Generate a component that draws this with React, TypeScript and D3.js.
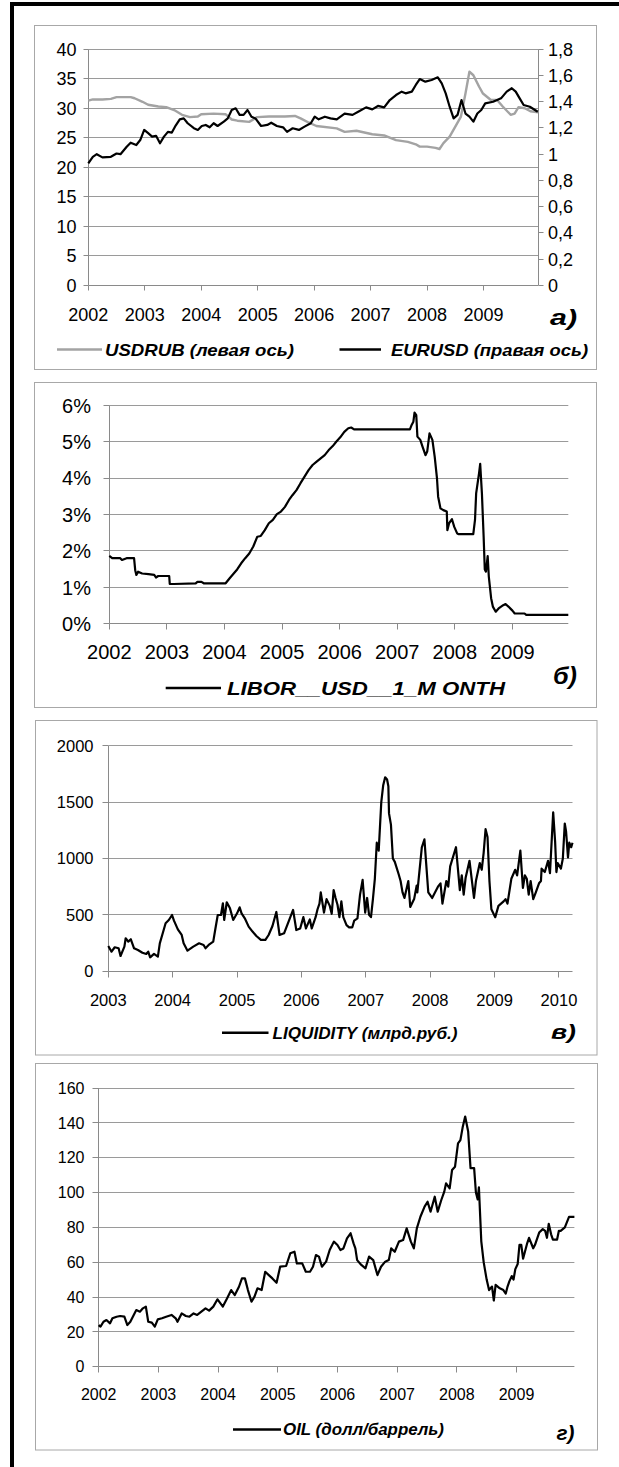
import React from 'react';
import * as d3 from 'd3';

type Pt = [number, number];

// ---------- Panel а) ----------
const YEARS_A = [2002, 2003, 2004, 2005, 2006, 2007, 2008, 2009];
const TICKS_A_LEFT = [0, 5, 10, 15, 20, 25, 30, 35, 40];
const TICKS_A_RIGHT = [0, 0.2, 0.4, 0.6, 0.8, 1, 1.2, 1.4, 1.6, 1.8];
const USDRUB: Pt[] = [
  [2002.0, 31.3], [2002.08, 31.5], [2002.25, 31.5], [2002.4, 31.6], [2002.5, 31.9], [2002.75, 31.9],
  [2002.82, 31.7], [2002.96, 31.1], [2003.06, 30.6], [2003.24, 30.3], [2003.38, 30.2], [2003.52, 29.7],
  [2003.66, 28.9], [2003.8, 28.5], [2003.94, 28.6], [2004.0, 29.0], [2004.22, 29.1], [2004.43, 29.0],
  [2004.54, 28.1], [2004.64, 27.9], [2004.85, 27.7], [2004.99, 28.5], [2005.2, 28.6], [2005.48, 28.6],
  [2005.66, 28.7], [2005.76, 28.3], [2005.9, 27.6], [2006.04, 27.0], [2006.4, 26.6], [2006.54, 26.0],
  [2006.75, 26.2], [2007.03, 25.6], [2007.24, 25.4], [2007.45, 24.6], [2007.66, 24.3], [2007.8, 23.9],
  [2007.87, 23.5], [2008.0, 23.5], [2008.15, 23.3], [2008.22, 23.1], [2008.29, 24.1], [2008.4, 25.2],
  [2008.5, 26.9], [2008.6, 28.6], [2008.68, 32.5], [2008.75, 36.2], [2008.82, 35.6], [2008.92, 33.7],
  [2008.99, 32.5], [2009.13, 31.4], [2009.24, 31.4], [2009.34, 30.3], [2009.48, 28.9], [2009.55, 29.1],
  [2009.62, 30.2], [2009.73, 30.0], [2009.83, 29.5], [2009.97, 29.3],
];
const EURUSD: Pt[] = [
  [2002.0, 0.93], [2002.08, 0.98], [2002.15, 1.0], [2002.25, 0.976], [2002.4, 0.98], [2002.5, 1.005],
  [2002.57, 1.0], [2002.68, 1.057], [2002.75, 1.088], [2002.85, 1.07], [2002.92, 1.108], [2002.99, 1.185],
  [2003.06, 1.16], [2003.13, 1.134], [2003.2, 1.14], [2003.27, 1.083], [2003.34, 1.134], [2003.41, 1.17],
  [2003.48, 1.165], [2003.55, 1.22], [2003.62, 1.266], [2003.69, 1.273], [2003.76, 1.236], [2003.87, 1.198],
  [2003.94, 1.185], [2004.01, 1.215], [2004.08, 1.223], [2004.15, 1.205], [2004.22, 1.236], [2004.29, 1.215],
  [2004.4, 1.248], [2004.47, 1.273], [2004.54, 1.337], [2004.61, 1.35], [2004.68, 1.3], [2004.75, 1.3],
  [2004.82, 1.337], [2004.89, 1.286], [2004.96, 1.273], [2005.06, 1.215], [2005.17, 1.223], [2005.24, 1.24],
  [2005.34, 1.215], [2005.45, 1.205], [2005.52, 1.17], [2005.62, 1.198], [2005.73, 1.185], [2005.83, 1.21],
  [2005.94, 1.236], [2006.01, 1.286], [2006.08, 1.266], [2006.19, 1.286], [2006.29, 1.273], [2006.4, 1.266],
  [2006.54, 1.31], [2006.68, 1.3], [2006.78, 1.324], [2006.92, 1.357], [2007.03, 1.342], [2007.13, 1.368],
  [2007.24, 1.357], [2007.34, 1.413], [2007.45, 1.451], [2007.55, 1.477], [2007.62, 1.464], [2007.73, 1.477],
  [2007.8, 1.528], [2007.87, 1.573], [2007.97, 1.553], [2008.08, 1.566], [2008.19, 1.586], [2008.26, 1.54],
  [2008.33, 1.464], [2008.4, 1.362], [2008.47, 1.273], [2008.54, 1.3], [2008.61, 1.413], [2008.68, 1.31],
  [2008.75, 1.286], [2008.82, 1.248], [2008.89, 1.31], [2008.96, 1.337], [2009.03, 1.388], [2009.17, 1.4],
  [2009.31, 1.426], [2009.41, 1.477], [2009.5, 1.503], [2009.57, 1.477], [2009.64, 1.426], [2009.71, 1.375],
  [2009.82, 1.362], [2009.96, 1.324],
];

// ---------- Panel б) ----------
const YEARS_B = [2002, 2003, 2004, 2005, 2006, 2007, 2008, 2009];
const TICKS_B = [0, 1, 2, 3, 4, 5, 6];
const LIBOR: Pt[] = [
  [2002.0, 1.86], [2002.05, 1.8], [2002.19, 1.8], [2002.22, 1.75], [2002.3, 1.8], [2002.43, 1.8],
  [2002.45, 1.47], [2002.47, 1.34], [2002.5, 1.43], [2002.57, 1.38], [2002.68, 1.36], [2002.78, 1.34],
  [2002.81, 1.27], [2002.85, 1.31], [2003.04, 1.31], [2003.05, 1.09], [2003.12, 1.09], [2003.5, 1.11],
  [2003.53, 1.15], [2003.6, 1.15], [2003.64, 1.11], [2004.02, 1.11], [2004.09, 1.25], [2004.16, 1.38],
  [2004.22, 1.49], [2004.29, 1.66], [2004.36, 1.8], [2004.43, 1.93], [2004.5, 2.12], [2004.57, 2.39],
  [2004.63, 2.41], [2004.7, 2.57], [2004.77, 2.76], [2004.84, 2.85], [2004.91, 3.01], [2004.98, 3.08],
  [2005.05, 3.21], [2005.12, 3.4], [2005.18, 3.53], [2005.25, 3.67], [2005.32, 3.86], [2005.39, 4.04],
  [2005.46, 4.22], [2005.53, 4.36], [2005.6, 4.45], [2005.67, 4.54], [2005.74, 4.63], [2005.81, 4.77],
  [2005.88, 4.88], [2005.94, 5.0], [2006.01, 5.12], [2006.08, 5.27], [2006.15, 5.37], [2006.2, 5.39],
  [2006.25, 5.34], [2007.22, 5.34], [2007.25, 5.46], [2007.28, 5.55], [2007.3, 5.8], [2007.33, 5.73],
  [2007.35, 5.14], [2007.4, 5.05], [2007.44, 4.86], [2007.49, 4.63], [2007.52, 4.73], [2007.56, 5.23],
  [2007.61, 5.05], [2007.65, 4.59], [2007.69, 3.99], [2007.71, 3.49], [2007.75, 3.17], [2007.8, 3.12],
  [2007.86, 3.08], [2007.87, 2.57], [2007.9, 2.76], [2007.95, 2.87], [2007.99, 2.66], [2008.04, 2.48],
  [2008.07, 2.46], [2008.32, 2.46], [2008.35, 2.85], [2008.37, 3.58], [2008.42, 4.13], [2008.44, 4.39],
  [2008.47, 3.58], [2008.5, 2.39], [2008.52, 1.49], [2008.54, 1.43], [2008.57, 1.86], [2008.59, 1.29],
  [2008.63, 0.7], [2008.66, 0.47], [2008.71, 0.33], [2008.76, 0.42], [2008.84, 0.51], [2008.88, 0.54],
  [2008.93, 0.47], [2009.0, 0.36], [2009.04, 0.28], [2009.21, 0.28], [2009.24, 0.24], [2009.97, 0.24],
];

// ---------- Panel в) ----------
const YEARS_C = [2003, 2004, 2005, 2006, 2007, 2008, 2009, 2010];
const TICKS_C = [0, 500, 1000, 1500, 2000];
const LIQUIDITY: Pt[] = [
  [2003.0, 225], [2003.05, 174], [2003.1, 213], [2003.16, 204], [2003.19, 136], [2003.25, 219],
  [2003.27, 293], [2003.31, 263], [2003.35, 284], [2003.4, 204], [2003.46, 189], [2003.53, 165],
  [2003.59, 154], [2003.62, 174], [2003.65, 124], [2003.71, 154], [2003.77, 130], [2003.8, 248],
  [2003.86, 366], [2003.89, 426], [2003.94, 455], [2003.99, 499], [2004.02, 449], [2004.08, 372],
  [2004.14, 322], [2004.17, 248], [2004.23, 183], [2004.32, 219], [2004.41, 248], [2004.48, 233],
  [2004.51, 204], [2004.57, 239], [2004.63, 263], [2004.66, 366], [2004.7, 499], [2004.75, 499],
  [2004.78, 603], [2004.8, 455], [2004.84, 612], [2004.89, 558], [2004.94, 455], [2005.0, 514],
  [2005.04, 567], [2005.07, 514], [2005.12, 470], [2005.18, 396], [2005.24, 352], [2005.3, 313],
  [2005.37, 278], [2005.44, 278], [2005.49, 322], [2005.55, 402], [2005.61, 526], [2005.66, 322],
  [2005.73, 337], [2005.83, 485], [2005.87, 544], [2005.92, 366], [2005.98, 380], [2006.03, 480],
  [2006.07, 380], [2006.13, 460], [2006.16, 380], [2006.22, 480], [2006.25, 550], [2006.28, 600],
  [2006.3, 700], [2006.35, 520], [2006.39, 640], [2006.44, 580], [2006.47, 510], [2006.5, 720],
  [2006.53, 650], [2006.56, 590], [2006.59, 480], [2006.62, 620], [2006.65, 480], [2006.7, 410],
  [2006.74, 390], [2006.79, 390], [2006.82, 450], [2006.87, 470], [2006.91, 680], [2006.95, 810],
  [2006.99, 520], [2007.02, 650], [2007.05, 500], [2007.08, 480], [2007.11, 640], [2007.14, 820],
  [2007.17, 1140], [2007.2, 1070], [2007.24, 1500], [2007.27, 1650], [2007.3, 1720], [2007.33, 1700],
  [2007.35, 1640], [2007.36, 1400], [2007.39, 1300], [2007.42, 1000], [2007.45, 970], [2007.51, 860],
  [2007.54, 800], [2007.57, 700], [2007.6, 650], [2007.66, 800], [2007.69, 570], [2007.75, 640],
  [2007.79, 760], [2007.8, 700], [2007.87, 1100], [2007.91, 1170], [2007.97, 700], [2008.03, 650],
  [2008.12, 750], [2008.16, 780], [2008.19, 600], [2008.25, 800], [2008.28, 750], [2008.31, 930],
  [2008.4, 1100], [2008.46, 720], [2008.49, 850], [2008.52, 680], [2008.55, 830], [2008.61, 980],
  [2008.68, 650], [2008.71, 800], [2008.77, 960], [2008.8, 900], [2008.83, 1050], [2008.86, 1260],
  [2008.89, 1190], [2008.92, 800], [2008.95, 550], [2009.01, 480], [2009.06, 580], [2009.14, 620],
  [2009.17, 640], [2009.2, 600], [2009.26, 820], [2009.32, 900], [2009.35, 850], [2009.4, 1070],
  [2009.44, 740], [2009.47, 850], [2009.5, 820], [2009.53, 680], [2009.56, 800], [2009.6, 640],
  [2009.64, 700], [2009.69, 780], [2009.72, 800], [2009.73, 910], [2009.78, 880], [2009.83, 980],
  [2009.86, 870], [2009.91, 1410], [2009.94, 1150], [2009.96, 880], [2009.98, 960], [2010.03, 910],
  [2010.06, 1000], [2010.09, 1310], [2010.11, 1240], [2010.14, 1010], [2010.16, 1140], [2010.19, 1100],
  [2010.21, 1140],
];

// ---------- Panel г) ----------
const YEARS_D = [2002, 2003, 2004, 2005, 2006, 2007, 2008, 2009];
const TICKS_D = [0, 20, 40, 60, 80, 100, 120, 140, 160];
const OIL: Pt[] = [
  [2002.0, 23.9], [2002.03, 23], [2002.08, 25.8], [2002.13, 26.8], [2002.19, 24.9], [2002.23, 27.8],
  [2002.3, 28.7], [2002.36, 29.1], [2002.43, 28.7], [2002.48, 23.9], [2002.53, 25.8], [2002.6, 30.6],
  [2002.63, 32.5], [2002.69, 31.6], [2002.74, 33.5], [2002.79, 34.5], [2002.83, 25.8], [2002.89, 25.3],
  [2002.94, 23], [2002.99, 27.2], [2003.06, 27.8], [2003.13, 28.7], [2003.22, 29.7], [2003.29, 27.8],
  [2003.32, 25.8], [2003.39, 30.6], [2003.46, 29.1], [2003.52, 28.7], [2003.59, 30.6], [2003.65, 29.7],
  [2003.72, 31.6], [2003.79, 33.5], [2003.85, 32.2], [2003.92, 34.5], [2003.99, 38.7], [2004.04, 36.4],
  [2004.08, 34.5], [2004.15, 39.2], [2004.22, 44.0], [2004.28, 41.1], [2004.35, 45.9], [2004.4, 50.7],
  [2004.45, 50.7], [2004.5, 44.0], [2004.56, 37.3], [2004.61, 40.2], [2004.66, 45.0], [2004.73, 44.0],
  [2004.79, 54.5], [2004.85, 52.6], [2004.91, 50.7], [2004.98, 48.2], [2005.04, 57.4], [2005.14, 57.8],
  [2005.21, 65.1], [2005.28, 66.0], [2005.32, 59.3], [2005.41, 59.3], [2005.47, 54.5], [2005.54, 54.5],
  [2005.59, 57.4], [2005.64, 64.1], [2005.69, 63.2], [2005.74, 57.4], [2005.81, 60.3], [2005.87, 67.0],
  [2005.94, 71.8], [2006.0, 69.9], [2006.05, 67.0], [2006.1, 67.9], [2006.16, 73.7], [2006.22, 76.6],
  [2006.27, 70.8], [2006.3, 67.9], [2006.33, 61.2], [2006.4, 58.4], [2006.47, 56.5], [2006.53, 63.2],
  [2006.6, 61.2], [2006.67, 52.6], [2006.73, 57.4], [2006.8, 60.3], [2006.86, 61.2], [2006.9, 67.9],
  [2006.96, 66.0], [2007.03, 71.8], [2007.1, 72.7], [2007.16, 79.4], [2007.23, 71.8], [2007.28, 67.9],
  [2007.33, 79.4], [2007.39, 86.1], [2007.46, 91.9], [2007.51, 94.7], [2007.56, 89.0], [2007.63, 97.6],
  [2007.68, 89.0], [2007.74, 95.7], [2007.79, 100.5], [2007.82, 105.3], [2007.88, 102.4], [2007.92, 112.9],
  [2007.97, 114.8], [2008.02, 128.2], [2008.06, 130.1], [2008.1, 137.8], [2008.14, 143.6], [2008.19, 135],
  [2008.23, 114], [2008.29, 114], [2008.32, 100], [2008.35, 96], [2008.37, 103], [2008.41, 72],
  [2008.45, 60], [2008.5, 50], [2008.54, 44], [2008.59, 46], [2008.62, 38], [2008.65, 47],
  [2008.72, 45], [2008.78, 44], [2008.82, 42], [2008.85, 46], [2008.88, 49], [2008.92, 52],
  [2008.95, 50], [2008.98, 56], [2009.02, 59], [2009.05, 70], [2009.08, 70], [2009.11, 62],
  [2009.18, 71], [2009.21, 74], [2009.28, 68], [2009.31, 70], [2009.38, 77], [2009.44, 79],
  [2009.48, 78], [2009.51, 74], [2009.54, 82], [2009.58, 76], [2009.61, 73], [2009.68, 73],
  [2009.71, 78], [2009.74, 78], [2009.81, 80], [2009.88, 86], [2009.97, 86],
];

const FONT = '"Liberation Sans", Arial, Helvetica, sans-serif';
const GRID = '#9a9a9a';
const AXIS = '#8a8a8a';
const FRAME = '#a8a8a8';

const c = (v: number) => Math.round(v - 0.5) + 0.5;

type AxesProps = {
  xs: d3.ScaleLinear<number, number>;
  ys: d3.ScaleLinear<number, number>;
  xTicks: number[];
  yTicks: number[];
  yFmt: (v: number) => string;
  yLabelEnd: number;
  xLabelBaseline: number;
  fontSize: number;
  tick: number;
};

function Axes({ xs, ys, xTicks, yTicks, yFmt, yLabelEnd, xLabelBaseline, fontSize, tick }: AxesProps) {
  const [x0, x1] = xs.range();
  const [yb, yt] = ys.range();
  return (
    <g>
      {yTicks.filter((t) => t !== 0).map((t) => (
        <line key={'g' + t} x1={c(x0)} x2={x1} y1={c(ys(t))} y2={c(ys(t))} stroke={GRID} strokeWidth={1} />
      ))}
      <line x1={c(x0)} x2={c(x0)} y1={yt} y2={c(yb)} stroke={AXIS} />
      <line x1={c(x0)} x2={x1} y1={c(yb)} y2={c(yb)} stroke={AXIS} />
      {yTicks.map((t) => (
        <line key={'yt' + t} x1={c(x0) - tick} x2={c(x0)} y1={c(ys(t))} y2={c(ys(t))} stroke={AXIS} />
      ))}
      {xTicks.map((t) => (
        <line key={'xt' + t} x1={c(xs(t))} x2={c(xs(t))} y1={c(yb)} y2={c(yb) + tick} stroke={AXIS} />
      ))}
      {yTicks.map((t) => (
        <text key={'yl' + t} x={yLabelEnd} y={ys(t)} dy="0.36em" textAnchor="end" fontSize={fontSize} fill="#000">
          {yFmt(t)}
        </text>
      ))}
      {xTicks.map((t) => (
        <text key={'xl' + t} x={xs(t)} y={xLabelBaseline} textAnchor="middle" fontSize={fontSize} fill="#000">
          {t}
        </text>
      ))}
    </g>
  );
}

function path(data: Pt[], xs: d3.ScaleLinear<number, number>, ys: d3.ScaleLinear<number, number>) {
  return d3.line<Pt>().x((d) => xs(d[0])).y((d) => ys(d[1]))(data) || '';
}

export default function App() {
  // Panel а
  const xA = d3.scaleLinear().domain([2002, 2009.97]).range([88.3, 538.3]);
  const yAL = d3.scaleLinear().domain([0, 40]).range([285.3, 49.3]);
  const yAR = d3.scaleLinear().domain([0, 1.8]).range([285.3, 49.3]);
  // Panel б
  const xB = d3.scaleLinear().domain([2002, 2009.97]).range([109.3, 568.3]);
  const yB = d3.scaleLinear().domain([0, 6]).range([623.7, 405.3]);
  // Panel в
  const xC = d3.scaleLinear().domain([2003, 2010.21]).range([108.3, 572.5]);
  const yC = d3.scaleLinear().domain([0, 2000]).range([971.3, 745.7]);
  // Panel г
  const xD = d3.scaleLinear().domain([2002, 2009.97]).range([98.7, 574.4]);
  const yD = d3.scaleLinear().domain([0, 160]).range([1366.7, 1088]);

  const rightAxisX = c(xA.range()[1]);
  const fmtComma = (v: number) => String(+v.toFixed(1)).replace('.', ',');

  const legendStyle = { fontWeight: 'bold' as const, fontStyle: 'italic' as const };

  return (
    <div style={{ position: 'absolute', left: 0, top: 0 }}>
      <svg width={619} height={1467} viewBox="0 0 619 1467" style={{ display: 'block', background: '#fff' }} fontFamily={FONT}>
        <rect x={0} y={0} width={619} height={1467} fill="#fff" />
        {/* outer black frame */}
        <rect x={12} y={4} width={700} height={1500} fill="none" stroke="#000" strokeWidth={4} />

        {/* panel frames */}
        <rect x={34.5} y={25.5} width={562} height={344} fill="none" stroke={FRAME} />
        <rect x={34.5} y={382.5} width={562} height={325} fill="none" stroke={FRAME} />
        <rect x={35.5} y={720.5} width={561.5} height={334.5} fill="none" stroke={FRAME} />
        <rect x={35.5} y={1063.5} width={562} height={386.5} fill="none" stroke={FRAME} />

        {/* ---- Panel а ---- */}
        <Axes xs={xA} ys={yAL} xTicks={YEARS_A} yTicks={TICKS_A_LEFT} yFmt={(v) => String(v)} yLabelEnd={76.5}
          xLabelBaseline={321} fontSize={18} tick={5} />
        <line x1={rightAxisX} x2={rightAxisX} y1={yAR(1.8)} y2={c(yAR(0))} stroke={AXIS} />
        {TICKS_A_RIGHT.map((t) => (
          <g key={'ar' + t}>
            <line x1={rightAxisX} x2={rightAxisX + 5} y1={c(yAR(t))} y2={c(yAR(t))} stroke={AXIS} />
            <text x={548} y={yAR(t)} dy="0.36em" fontSize={18} fill="#000">{fmtComma(t)}</text>
          </g>
        ))}
        <path d={path(USDRUB, xA, yAL)} fill="none" stroke="#a3a3a3" strokeWidth={2.4} strokeLinejoin="round" />
        <path d={path(EURUSD, xA, yAR)} fill="none" stroke="#000" strokeWidth={2.2} strokeLinejoin="round" />
        <text x={550} y={325} fontSize={22} {...legendStyle} textLength={27} lengthAdjust="spacingAndGlyphs">а)</text>
        <line x1={57} x2={102} y1={349.5} y2={349.5} stroke="#a3a3a3" strokeWidth={2.5} />
        <text x={105} y={355.5} fontSize={17} {...legendStyle} textLength={189} lengthAdjust="spacingAndGlyphs">USDRUB (левая ось)</text>
        <line x1={339.5} x2={381} y1={349.5} y2={349.5} stroke="#000" strokeWidth={2.5} />
        <text x={391} y={355.5} fontSize={17} {...legendStyle} textLength={197} lengthAdjust="spacingAndGlyphs">EURUSD (правая ось)</text>

        {/* ---- Panel б ---- */}
        <Axes xs={xB} ys={yB} xTicks={YEARS_B} yTicks={TICKS_B} yFmt={(v) => v + '%'} yLabelEnd={91}
          xLabelBaseline={659} fontSize={20} tick={6} />
        <path d={path(LIBOR, xB, yB)} fill="none" stroke="#000" strokeWidth={2.2} strokeLinejoin="round" />
        <text x={553} y={683.5} fontSize={23} {...legendStyle} textLength={24} lengthAdjust="spacingAndGlyphs">б)</text>
        <line x1={165.7} x2={221} y1={688} y2={688} stroke="#000" strokeWidth={2.5} />
        <text x={227} y={695} fontSize={19} {...legendStyle} textLength={278} lengthAdjust="spacingAndGlyphs">LIBOR__USD__1_M ONTH</text>

        {/* ---- Panel в ---- */}
        <Axes xs={xC} ys={yC} xTicks={YEARS_C} yTicks={TICKS_C} yFmt={(v) => String(v)} yLabelEnd={93.5}
          xLabelBaseline={1005.7} fontSize={16.5} tick={6} />
        <path d={path(LIQUIDITY, xC, yC)} fill="none" stroke="#000" strokeWidth={2.2} strokeLinejoin="round" />
        <text x={551} y={1039} fontSize={21} {...legendStyle} textLength={25} lengthAdjust="spacingAndGlyphs">в)</text>
        <line x1={222} x2={268.5} y1={1032.7} y2={1032.7} stroke="#000" strokeWidth={2.5} />
        <text x={272.5} y={1038.5} fontSize={16} {...legendStyle} textLength={185} lengthAdjust="spacingAndGlyphs">LIQUIDITY (млрд.руб.)</text>

        {/* ---- Panel г ---- */}
        <Axes xs={xD} ys={yD} xTicks={YEARS_D} yTicks={TICKS_D} yFmt={(v) => String(v)} yLabelEnd={84.5}
          xLabelBaseline={1400} fontSize={16} tick={6} />
        <path d={path(OIL, xD, yD)} fill="none" stroke="#000" strokeWidth={2.2} strokeLinejoin="round" />
        <text x={556.5} y={1440} fontSize={21} {...legendStyle} textLength={18} lengthAdjust="spacingAndGlyphs">г)</text>
        <line x1={233} x2={281} y1={1429.5} y2={1429.5} stroke="#000" strokeWidth={2.5} />
        <text x={283} y={1435} fontSize={16} {...legendStyle} textLength={161} lengthAdjust="spacingAndGlyphs">OIL (долл/баррель)</text>
      </svg>
    </div>
  );
}
